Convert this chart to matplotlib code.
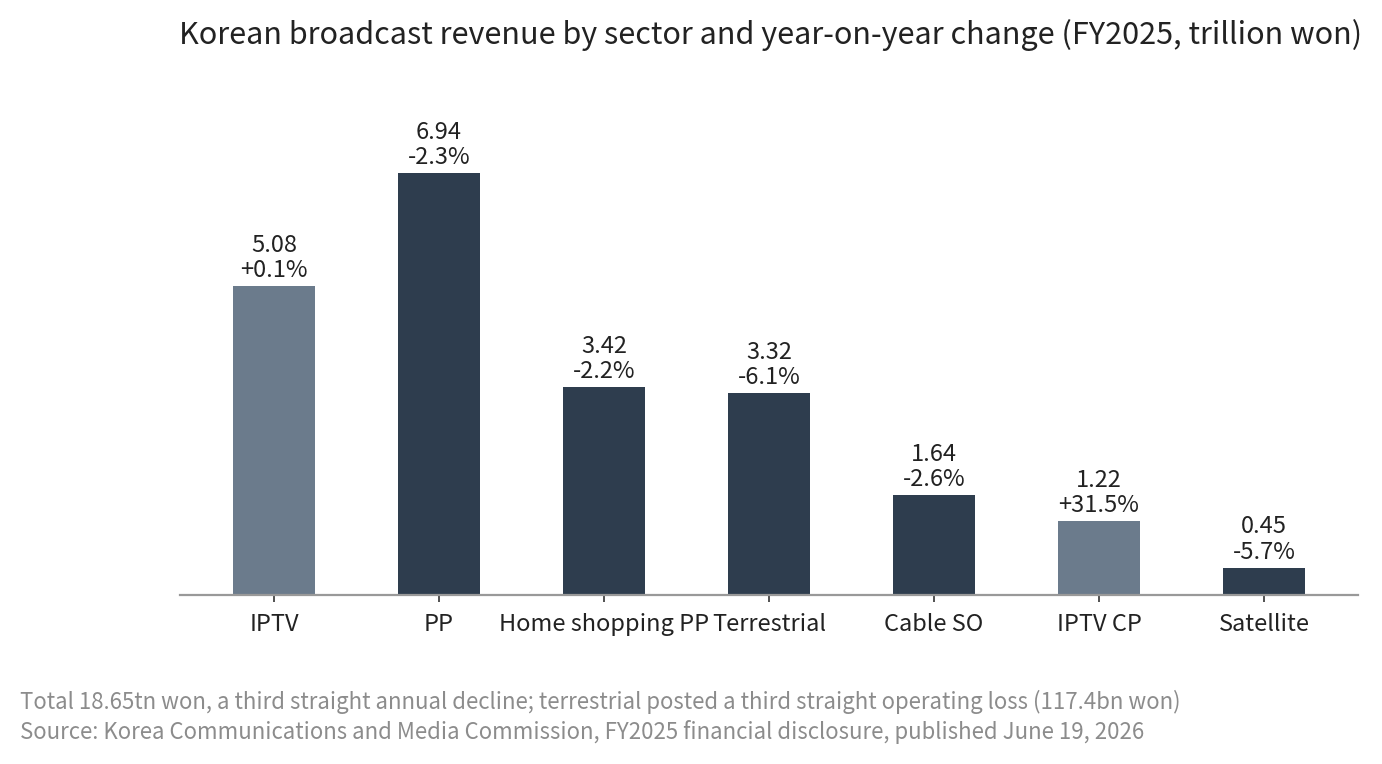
import matplotlib
matplotlib.use("Agg")
import matplotlib.pyplot as plt
import numpy as np

plt.rcParams["font.family"] = ["Noto Sans CJK KR", "DejaVu Sans"]

# data
sectors = ["IPTV", "PP", "Home shopping PP", "Terrestrial", "Cable SO", "IPTV CP", "Satellite"]
revenue = [5.08, 6.94, 3.42, 3.32, 1.64, 1.22, 0.45]
yoy_change = [0.1, -2.3, -2.2, -6.1, -2.6, 31.5, -5.7]

title = "Korean broadcast revenue by sector and year-on-year change (FY2025, trillion won)"
footnote = ("Total 18.65tn won, a third straight annual decline; terrestrial posted a third "
            "straight operating loss (117.4bn won)\n"
            "Source: Korea Communications and Media Commission, FY2025 financial disclosure, "
            "published June 19, 2026")

UP_COLOR = "#6b7b8c"
DOWN_COLOR = "#2e3d4e"

W, H = 1382, 764
fig = plt.figure(figsize=(W / 100, H / 100), dpi=100)
ax = fig.add_axes([180 / W, (H - 595) / H, (1358 - 180) / W, (595 - 100) / H])

x = np.arange(len(sectors))
colors = [UP_COLOR if c > 0 else DOWN_COLOR for c in yoy_change]
bars = ax.bar(x, revenue, width=0.5, color=colors, zorder=2)

for xi, val, chg in zip(x, revenue, yoy_change):
    ax.annotate(f"{val:.2f}\n{chg:+.1f}%", (xi, val), xytext=(0, 3),
                textcoords="offset points", ha="center", va="bottom",
                fontsize=17, color="#222222", linespacing=1.12)

ax.set_xlim(-0.57, len(sectors) - 0.43)
ax.set_ylim(0, 8.15)
ax.set_xticks(x)
ax.set_xticklabels(sectors, fontsize=17, color="#222222")
ax.tick_params(axis="x", length=5, width=1.2, color="#333333", pad=8)
ax.set_yticks([])
for side in ["top", "right", "left"]:
    ax.spines[side].set_visible(False)
ax.spines["bottom"].set_color("#999999")
ax.spines["bottom"].set_linewidth(1.6)

fig.text(771 / W, 1 - 35 / H, title, ha="center", va="center", fontsize=22, color="#222222")
fig.text(20 / W, 1 - 717 / H, footnote, ha="left", va="center", fontsize=16,
         color="#8c8c8c", linespacing=1.3)

fig.savefig("out.png", dpi=100)
